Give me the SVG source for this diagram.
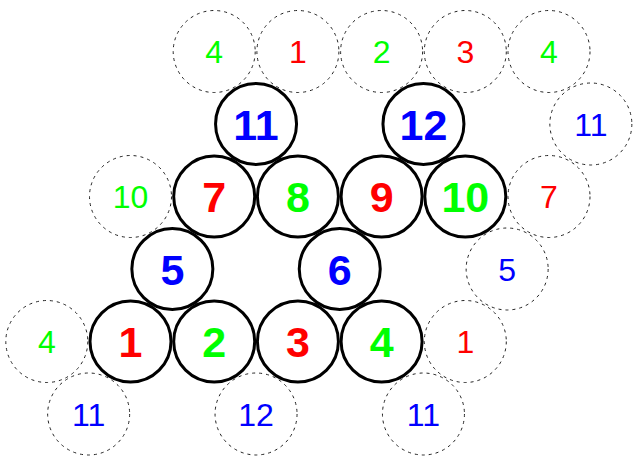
<svg xmlns="http://www.w3.org/2000/svg" width="634" height="458" viewBox="0 0 634 458">
<style>
.s{fill:none;stroke:#000;stroke-width:3}
.d{fill:none;stroke:#222;stroke-width:1;stroke-dasharray:3,4}
.ts{font-family:"Liberation Sans",Arial,sans-serif;font-weight:bold;font-size:43px;text-anchor:middle}
.td{font-family:"Liberation Sans",Arial,sans-serif;font-size:32px;text-anchor:middle}
.r{fill:#ff0000}.g{fill:#00ff00}.b{fill:#0000ff}
</style>
<rect width="634" height="458" fill="#fff"/>
<g id="ghosts">
<g id="g1"><circle class="d" cx="214.2" cy="51.5" r="41"/><text class="td g" x="214.2" y="63">4</text></g>
<g id="g2"><circle class="d" cx="297.9" cy="51.5" r="41"/><text class="td r" x="297.9" y="63">1</text></g>
<g id="g3"><circle class="d" cx="381.6" cy="51.5" r="41"/><text class="td g" x="381.6" y="63">2</text></g>
<g id="g4"><circle class="d" cx="465.3" cy="51.5" r="41"/><text class="td r" x="465.3" y="63">3</text></g>
<g id="g5"><circle class="d" cx="549" cy="51.5" r="41"/><text class="td g" x="549" y="63">4</text></g>
<g id="g6"><circle class="d" cx="590.85" cy="124" r="41"/><text class="td b" x="590.85" y="135.5">11</text></g>
<g id="g7"><circle class="d" cx="130.5" cy="196.5" r="41"/><text class="td g" x="130.5" y="208">10</text></g>
<g id="g8"><circle class="d" cx="549" cy="196.5" r="41"/><text class="td r" x="549" y="208">7</text></g>
<g id="g9"><circle class="d" cx="507.15" cy="269" r="41"/><text class="td b" x="507.15" y="280.5">5</text></g>
<g id="g10"><circle class="d" cx="46.8" cy="341.5" r="41"/><text class="td g" x="46.8" y="353">4</text></g>
<g id="g11"><circle class="d" cx="465.3" cy="341.5" r="41"/><text class="td r" x="465.3" y="353">1</text></g>
<g id="g12"><circle class="d" cx="88.65" cy="414" r="41"/><text class="td b" x="88.65" y="425.5">11</text></g>
<g id="g13"><circle class="d" cx="256.05" cy="414" r="41"/><text class="td b" x="256.05" y="425.5">12</text></g>
<g id="g14"><circle class="d" cx="423.45" cy="414" r="41"/><text class="td b" x="423.45" y="425.5">11</text></g>
</g>
<g id="connectors"></g>
<g id="nodes">
<g id="n1"><circle class="s" cx="130.5" cy="341.5" r="40.5"/><text class="ts r" x="130.5" y="357">1</text></g>
<g id="n2"><circle class="s" cx="214.2" cy="341.5" r="40.5"/><text class="ts g" x="214.2" y="357">2</text></g>
<g id="n3"><circle class="s" cx="297.9" cy="341.5" r="40.5"/><text class="ts r" x="297.9" y="357">3</text></g>
<g id="n4"><circle class="s" cx="381.6" cy="341.5" r="40.5"/><text class="ts g" x="381.6" y="357">4</text></g>
<g id="n5"><circle class="s" cx="172.35" cy="269" r="40.5"/><text class="ts b" x="172.35" y="284.5">5</text></g>
<g id="n6"><circle class="s" cx="339.75" cy="269" r="40.5"/><text class="ts b" x="339.75" y="284.5">6</text></g>
<g id="n7"><circle class="s" cx="214.2" cy="196.5" r="40.5"/><text class="ts r" x="214.2" y="212">7</text></g>
<g id="n8"><circle class="s" cx="297.9" cy="196.5" r="40.5"/><text class="ts g" x="297.9" y="212">8</text></g>
<g id="n9"><circle class="s" cx="381.6" cy="196.5" r="40.5"/><text class="ts r" x="381.6" y="212">9</text></g>
<g id="n10"><circle class="s" cx="465.3" cy="196.5" r="40.5"/><text class="ts g" x="465.3" y="212">10</text></g>
<g id="n11"><circle class="s" cx="256.05" cy="124" r="40.5"/><text class="ts b" x="256.05" y="139.5">11</text></g>
<g id="n12"><circle class="s" cx="423.45" cy="124" r="40.5"/><text class="ts b" x="423.45" y="139.5">12</text></g>
</g>
</svg>
